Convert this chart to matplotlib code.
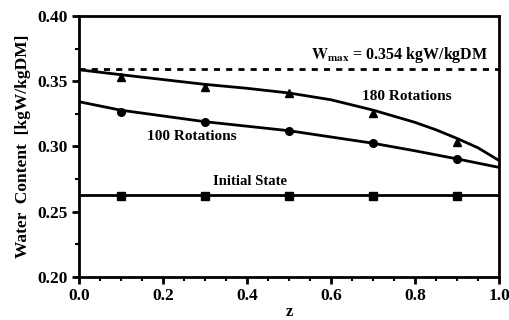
import matplotlib
matplotlib.use("Agg")
import matplotlib.pyplot as plt
from matplotlib.ticker import MultipleLocator, FormatStrFormatter

# ---- data ----
z_meas = [0.1, 0.3, 0.5, 0.7, 0.9]
w_180_meas = [0.3530, 0.3458, 0.3412, 0.3254, 0.3036]
w_100_meas = [0.3266, 0.3190, 0.3121, 0.3023, 0.2901]
w_init_meas = [0.2619, 0.2619, 0.2619, 0.2619, 0.2619]

z_curve_180 = [0.0, 0.1, 0.2, 0.3, 0.4, 0.5, 0.6, 0.7, 0.8, 0.85, 0.9, 0.95, 1.0]
w_curve_180 = [0.3588, 0.3550, 0.3513, 0.3476, 0.3446, 0.3410, 0.3358, 0.3279, 0.3185, 0.3128, 0.3062, 0.2990, 0.2893]
z_curve_100 = [0.0, 0.1, 0.3, 0.5, 0.7, 0.8, 0.9, 1.0]
w_curve_100 = [0.3343, 0.3278, 0.3190, 0.3121, 0.3025, 0.2967, 0.2905, 0.2840]
z_init = [0.0, 1.0]
w_init = [0.2630, 0.2630]
w_max_line = 0.3595

plt.rcParams['font.family'] = ['Liberation Serif', 'DejaVu Serif']
plt.rcParams['mathtext.fontset'] = 'stix'

fig = plt.figure(figsize=(5.09, 3.20), dpi=100)
ax = fig.add_axes([79/509, 1 - 277/320, (499 - 79)/509, (277 - 16)/320])

lw = 2.0
ax.plot(z_curve_180, w_curve_180, color='black', lw=lw, solid_joinstyle='round')
ax.plot(z_curve_100, w_curve_100, color='black', lw=lw, solid_joinstyle='round')
ax.plot(z_init, w_init, color='black', lw=lw)
ax.axhline(w_max_line, color='black', lw=2.0, ls=(0, (2.2, 2.2)))

ax.plot(z_meas, w_180_meas, ls='none', marker='^', ms=6, color='black')
ax.plot(z_meas, w_100_meas, ls='none', marker='o', ms=5.5, color='black')
ax.plot(z_meas, w_init_meas, ls='none', marker='s', ms=5.5, color='black')

ax.set_xlim(0.0, 1.0)
ax.set_ylim(0.20, 0.40)
ax.xaxis.set_major_locator(MultipleLocator(0.2))
ax.xaxis.set_minor_locator(MultipleLocator(0.05))
ax.yaxis.set_major_locator(MultipleLocator(0.05))
ax.yaxis.set_minor_locator(MultipleLocator(0.025))
ax.xaxis.set_major_formatter(FormatStrFormatter('%.1f'))
ax.yaxis.set_major_formatter(FormatStrFormatter('%.2f'))

for s in ax.spines.values():
    s.set_linewidth(2.0)
ax.tick_params(which='major', direction='out', length=5, width=2, labelsize=12.5, pad=3)
ax.tick_params(which='minor', direction='out', length=3, width=1.5)
for lab in ax.get_xticklabels() + ax.get_yticklabels():
    lab.set_fontweight('bold')

ax.set_ylabel('Water  Content  [kgW/kgDM]', fontsize=12.5, fontweight='bold', labelpad=5)
ax.set_xlabel('z', fontsize=12, fontweight='bold', labelpad=0)

ax.text(0.974, 0.370, r'$\mathbf{W_{max}}$' + ' = 0.354 kgW/kgDM', ha='right', va='center',
        fontsize=11.5, fontweight='bold')
ax.text(0.674, 0.338, '180 Rotations', ha='left', va='center', fontsize=11, fontweight='bold')
ax.text(0.162, 0.308, '100 Rotations', ha='left', va='center', fontsize=11, fontweight='bold')
ax.text(0.319, 0.2735, 'Initial State', ha='left', va='center', fontsize=10.5, fontweight='bold')

fig.savefig('out.png', dpi=100)
